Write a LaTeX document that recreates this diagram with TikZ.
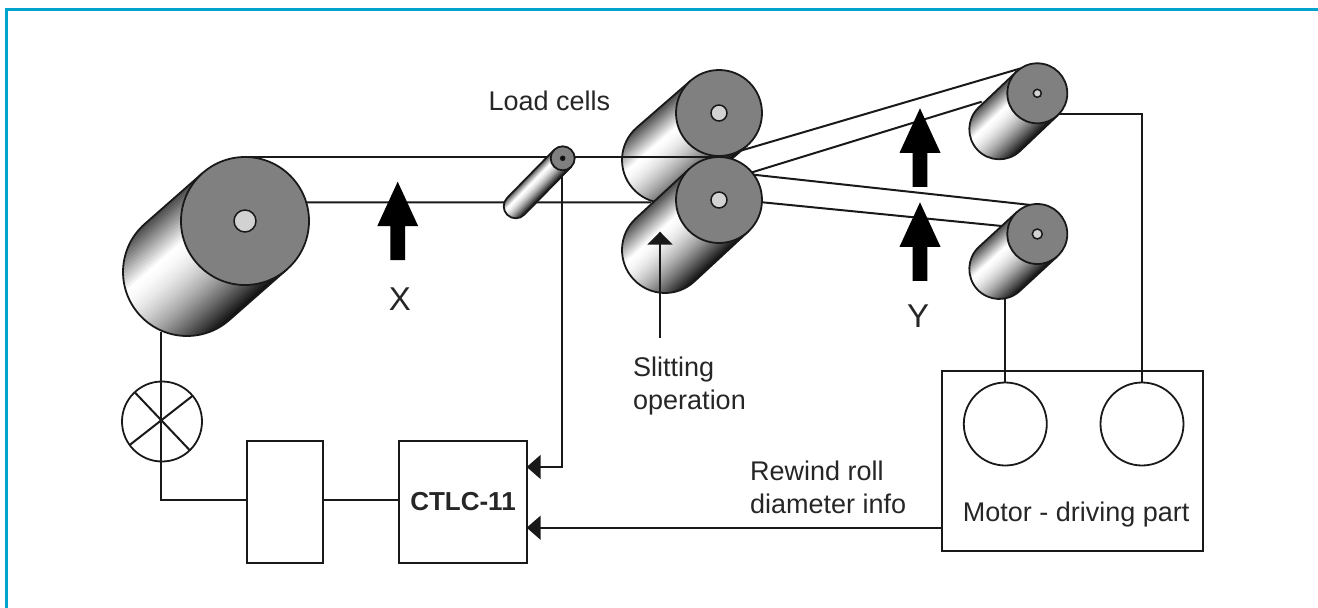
\documentclass[tikz,border=0pt]{standalone}
\usepackage{fontspec}
\setmainfont{Liberation Sans}
\usetikzlibrary{arrows.meta}

\definecolor{framecol}{RGB}{0,163,204}
\definecolor{facecol}{RGB}{128,128,128}
\definecolor{holecol}{RGB}{210,210,210}

\tikzset{
	wire/.style={line width=2pt,black!90},
	signal/.style={wire,-{Triangle[width=24pt,length=14pt]}},
	rollface/.style={circle,draw=black!90,line width=1.8pt,fill=facecol,inner sep=0pt,outer sep=0pt},
	block/.style={draw=black!90,line width=2pt,inner sep=0pt,outer sep=0pt},
	disc/.style={circle,draw=black!90,line width=1.8pt,inner sep=0pt,outer sep=0pt,minimum size=83pt},
	label/.style={inner sep=0pt,anchor=base west,align=left,text=black!85,font=\fontsize{27}{33}\selectfont},
	bigletter/.style={inner sep=0pt,anchor=base,text=black!85,font=\fontsize{33}{33}\selectfont}
}

% name, cx, cy, r, dx, dy, hole radius, hole colour
\newcommand{\roller}[8]{
	\pgfmathsetmacro{\rollang}{atan2(#6,#5)}
	\pgfmathsetmacro{\rolllen}{veclen(#5,#6)}
	\begin{scope}[shift={(#2,#3)},rotate=-\rollang]
		\begin{scope}
			\clip (0,#4) -- (\rolllen,#4) arc (90:-90:#4) -- (0,-#4) -- cycle;
			\foreach \s in {0,...,47} {
				\pgfmathsetmacro{\t}{(\s+0.5)/48}
				\pgfmathsetmacro{\g}{72*max(0.3-\t,0)/0.3+94*(max(\t-0.3,0.001)/0.7)^1.6}
				\fill[black!\g] (-2,{#4*(1-\s/24)}) rectangle (\rolllen+#4+2,{#4*(1-(\s+2)/24)});
			}
		\end{scope}
		\draw[line width=1.8pt,black!90] (0,#4) -- (\rolllen,#4) arc (90:-90:#4) -- (0,-#4);
	\end{scope}
	\node[rollface,minimum size=2*#4 pt] (#1) at (#2,#3) {};
	\fill[#8] (#2,#3) circle (#7);
	\draw[line width=1.5pt,black!90] (#2,#3) circle (#7);
}

\begin{document}
\begin{tikzpicture}[x=1pt,y=-1pt]
	\useasboundingbox (0,0) rectangle (1318,608);
	\draw[framecol,line width=3pt] (1318,9.5) -- (6.5,9.5) -- (6.5,608);

	\roller{bigroll}{245}{221}{64}{-58}{51}{11}{holecol}
	\roller{toproll}{719}{113}{43}{-54}{47}{8}{holecol}
	\roller{lowroll}{719}{200}{43}{-54}{50}{8}{holecol}
	\roller{upwind}{1037.3}{93.3}{30}{-38}{36}{4}{holecol}
	\roller{lowwind}{1037.3}{234}{30}{-38}{35}{5}{holecol}

	\coordinate (webend) at (651,202.3);
	\coordinate (uptap) at (981.7,101.7);
	\coordinate (lowtap) at (1001.7,226);
	\coordinate (celltap) at (561.7,176);
	\coordinate (bigfoot) at (160.7,332);
	\coordinate (lowfoot) at (1005.3,299);

	\draw[wire] (bigroll.north) -- (lowroll.north);
	\draw[wire] (bigroll.17) -- (webend);
	\draw[wire] (toproll.-63) -- (upwind.124);
	\draw[wire] (lowroll.40) -- (uptap);
	\draw[wire] (lowroll.36) -- (lowwind.104);
	\draw[wire] (lowroll.-3) -- (lowtap);

	\roller{cell}{562.7}{158.3}{12}{-47}{48}{2}{black}

	\node[block,minimum width=76.6pt,minimum height=122pt] (drive) at (285,502) {};
	\node[block,minimum width=127.4pt,minimum height=122pt,font=\bfseries\fontsize{26}{26}\selectfont,text=black!85] (ctlc) at (463,502) {CTLC-11};
	\node[block,minimum width=261pt,minimum height=180pt] (motorbox) at (1072.5,461) {};
	\node[disc] (motora) at (1005.3,424) {};
	\node[disc] (motorb) at (1142,424) {};
	\node[disc,minimum size=80pt] (lamp) at (162,421.5) {};

	\draw[wire] (lamp.133) -- (lamp.-46);
	\draw[wire] (lamp.40) -- (lamp.216);
	\draw[wire] (bigfoot) |- ([yshift=2pt]drive.west);
	\draw[wire] ([yshift=2pt]drive.east) -- ([yshift=2pt]ctlc.west);
	\draw[wire] (lowfoot) -- (motora.north);
	\draw[wire] (upwind.-44) -| (motorb.north);
	\draw[signal] (celltap) |- ([yshift=35pt]ctlc.east);
	\draw[signal] ([yshift=-66.7pt]motorbox.west) -- ([yshift=-25.7pt]ctlc.east);

	\foreach \x/\y in {397.7/181.7,920/108.3,920/202.3}
		\fill[black] (\x,\y) -- ++(20.5,44.5) -- ++(-13.2,0) -- ++(0,34) -- ++(-14.6,0) -- ++(0,-34) -- ++(-13.2,0) -- cycle;

	\coordinate (slittail) at (660,338);
	\coordinate (slittip) at (660,231.7);
	\draw[wire,-{Triangle[width=25pt,length=13pt]}] (slittail) -- (slittip);

	\node[label] (cellnote) at (488.3,110) {Load cells};
	\node[label] (slitnote) at (633,376) {Slitting};
	\node[label] (slitnoteb) at (633,409) {operation};
	\node[label] (rewnote) at (750,480.7) {Rewind roll};
	\node[label] (rewnoteb) at (750,513) {diameter info};
	\node[label] (motornote) at (962.7,521.7) {Motor - driving part};
	\node[bigletter] (xmark) at (400,310) {X};
	\node[bigletter] (ymark) at (918,327) {Y};
\end{tikzpicture}
\end{document}
